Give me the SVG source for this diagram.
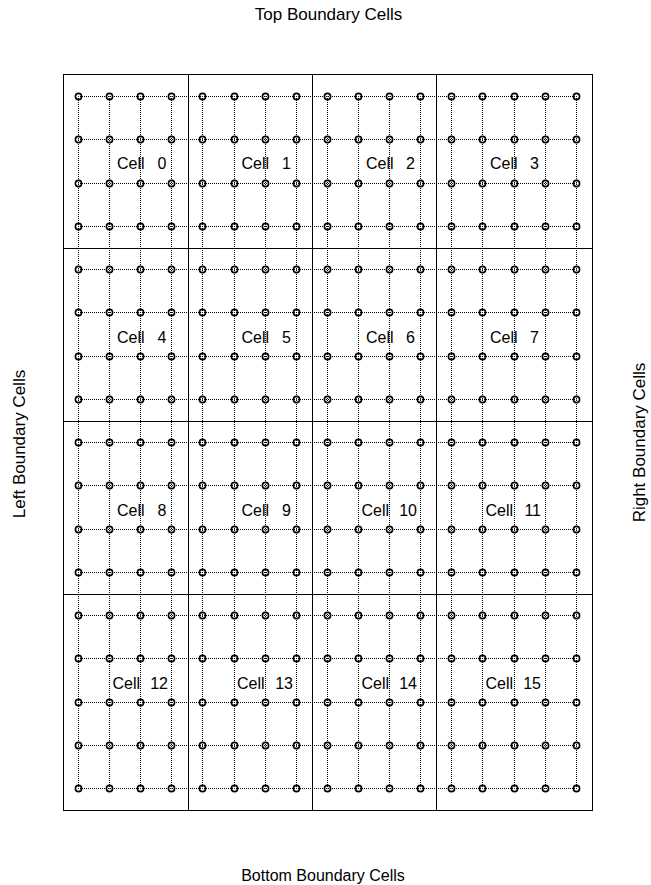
<svg xmlns="http://www.w3.org/2000/svg" width="651" height="885" viewBox="0 0 651 885">
<style>
.cell{fill:none;stroke:#000;stroke-width:1}
.lbl{font-family:"Liberation Sans",Arial,sans-serif;font-size:16px;fill:#000}
.blbl{font-family:"Liberation Sans",Arial,sans-serif;font-size:17px;fill:#000;text-anchor:middle}
.hl{fill:none;stroke:#000;stroke-width:1;stroke-dasharray:1 1;stroke-dashoffset:0.5;marker-start:url(#pt);marker-mid:url(#pt);marker-end:url(#pt)}
.vl{fill:none;stroke:#000;stroke-width:1;stroke-dasharray:1 1;stroke-dashoffset:0.5}
.end{text-anchor:end}
</style>
<defs>
<marker id="pt" markerUnits="userSpaceOnUse" markerWidth="10" markerHeight="10" refX="5" refY="5" viewBox="0 0 10 10" overflow="visible">
<circle cx="5" cy="5" r="3.1" fill="none" stroke="#000" stroke-width="1.6"/>
</marker>
</defs>
<rect width="651" height="885" fill="#fff"/>

<g id="boundary-labels">
<text class="blbl" x="328.5" y="20">Top Boundary Cells</text>
<text class="blbl" x="323" y="881" style="font-size:16px">Bottom Boundary Cells</text>
<text class="blbl" transform="translate(25,444) rotate(-90)">Left Boundary Cells</text>
<text class="blbl" transform="translate(645,442.5) rotate(-90)">Right Boundary Cells</text>
</g>

<g id="connectors">
<path class="vl" d="M78.5 96.5V788.5M109.5 96.5V788.5M140.5 96.5V788.5M171.5 96.5V788.5M202.5 96.5V788.5M234.5 96.5V788.5M265.5 96.5V788.5M296.5 96.5V788.5M327.5 96.5V788.5M358.5 96.5V788.5M389.5 96.5V788.5M420.5 96.5V788.5M451.5 96.5V788.5M482.5 96.5V788.5M514.5 96.5V788.5M545.5 96.5V788.5M576.5 96.5V788.5"/>
<path class="hl" d="M78.5 96.5H109.5H140.5H171.5H202.5H234.5H265.5H296.5H327.5H358.5H389.5H420.5H451.5H482.5H514.5H545.5H576.5"/>
<path class="hl" d="M78.5 139.5H109.5H140.5H171.5H202.5H234.5H265.5H296.5H327.5H358.5H389.5H420.5H451.5H482.5H514.5H545.5H576.5"/>
<path class="hl" d="M78.5 183.5H109.5H140.5H171.5H202.5H234.5H265.5H296.5H327.5H358.5H389.5H420.5H451.5H482.5H514.5H545.5H576.5"/>
<path class="hl" d="M78.5 226.5H109.5H140.5H171.5H202.5H234.5H265.5H296.5H327.5H358.5H389.5H420.5H451.5H482.5H514.5H545.5H576.5"/>
<path class="hl" d="M78.5 269.5H109.5H140.5H171.5H202.5H234.5H265.5H296.5H327.5H358.5H389.5H420.5H451.5H482.5H514.5H545.5H576.5"/>
<path class="hl" d="M78.5 312.5H109.5H140.5H171.5H202.5H234.5H265.5H296.5H327.5H358.5H389.5H420.5H451.5H482.5H514.5H545.5H576.5"/>
<path class="hl" d="M78.5 356.5H109.5H140.5H171.5H202.5H234.5H265.5H296.5H327.5H358.5H389.5H420.5H451.5H482.5H514.5H545.5H576.5"/>
<path class="hl" d="M78.5 399.5H109.5H140.5H171.5H202.5H234.5H265.5H296.5H327.5H358.5H389.5H420.5H451.5H482.5H514.5H545.5H576.5"/>
<path class="hl" d="M78.5 442.5H109.5H140.5H171.5H202.5H234.5H265.5H296.5H327.5H358.5H389.5H420.5H451.5H482.5H514.5H545.5H576.5"/>
<path class="hl" d="M78.5 485.5H109.5H140.5H171.5H202.5H234.5H265.5H296.5H327.5H358.5H389.5H420.5H451.5H482.5H514.5H545.5H576.5"/>
<path class="hl" d="M78.5 529.5H109.5H140.5H171.5H202.5H234.5H265.5H296.5H327.5H358.5H389.5H420.5H451.5H482.5H514.5H545.5H576.5"/>
<path class="hl" d="M78.5 572.5H109.5H140.5H171.5H202.5H234.5H265.5H296.5H327.5H358.5H389.5H420.5H451.5H482.5H514.5H545.5H576.5"/>
<path class="hl" d="M78.5 615.5H109.5H140.5H171.5H202.5H234.5H265.5H296.5H327.5H358.5H389.5H420.5H451.5H482.5H514.5H545.5H576.5"/>
<path class="hl" d="M78.5 658.5H109.5H140.5H171.5H202.5H234.5H265.5H296.5H327.5H358.5H389.5H420.5H451.5H482.5H514.5H545.5H576.5"/>
<path class="hl" d="M78.5 702.5H109.5H140.5H171.5H202.5H234.5H265.5H296.5H327.5H358.5H389.5H420.5H451.5H482.5H514.5H545.5H576.5"/>
<path class="hl" d="M78.5 745.5H109.5H140.5H171.5H202.5H234.5H265.5H296.5H327.5H358.5H389.5H420.5H451.5H482.5H514.5H545.5H576.5"/>
<path class="hl" d="M78.5 788.5H109.5H140.5H171.5H202.5H234.5H265.5H296.5H327.5H358.5H389.5H420.5H451.5H482.5H514.5H545.5H576.5"/>
</g>

<g id="cell-0"><rect class="cell" x="63.5" y="74.5" width="125" height="174"/><text class="lbl" y="168.5"><tspan x="117">Cell</tspan> <tspan class="end" x="166.5">0</tspan></text></g>
<g id="cell-1"><rect class="cell" x="188.5" y="74.5" width="124" height="174"/><text class="lbl" y="168.5"><tspan x="241.5">Cell</tspan> <tspan class="end" x="291">1</tspan></text></g>
<g id="cell-2"><rect class="cell" x="312.5" y="74.5" width="124" height="174"/><text class="lbl" y="168.5"><tspan x="366">Cell</tspan> <tspan class="end" x="415">2</tspan></text></g>
<g id="cell-3"><rect class="cell" x="436.5" y="74.5" width="156" height="174"/><text class="lbl" y="168.5"><tspan x="490">Cell</tspan> <tspan class="end" x="539">3</tspan></text></g>

<g id="cell-4"><rect class="cell" x="63.5" y="248.5" width="125" height="173"/><text class="lbl" y="342.5"><tspan x="117">Cell</tspan> <tspan class="end" x="166.5">4</tspan></text></g>
<g id="cell-5"><rect class="cell" x="188.5" y="248.5" width="124" height="173"/><text class="lbl" y="342.5"><tspan x="241.5">Cell</tspan> <tspan class="end" x="291">5</tspan></text></g>
<g id="cell-6"><rect class="cell" x="312.5" y="248.5" width="124" height="173"/><text class="lbl" y="342.5"><tspan x="366">Cell</tspan> <tspan class="end" x="415">6</tspan></text></g>
<g id="cell-7"><rect class="cell" x="436.5" y="248.5" width="156" height="173"/><text class="lbl" y="342.5"><tspan x="490">Cell</tspan> <tspan class="end" x="539">7</tspan></text></g>

<g id="cell-8"><rect class="cell" x="63.5" y="421.5" width="125" height="173"/><text class="lbl" y="515.5"><tspan x="117">Cell</tspan> <tspan class="end" x="166.5">8</tspan></text></g>
<g id="cell-9"><rect class="cell" x="188.5" y="421.5" width="124" height="173"/><text class="lbl" y="515.5"><tspan x="241.5">Cell</tspan> <tspan class="end" x="291">9</tspan></text></g>
<g id="cell-10"><rect class="cell" x="312.5" y="421.5" width="124" height="173"/><text class="lbl" y="515.5"><tspan x="361.5">Cell</tspan> <tspan class="end" x="417">10</tspan></text></g>
<g id="cell-11"><rect class="cell" x="436.5" y="421.5" width="156" height="173"/><text class="lbl" y="515.5"><tspan x="485.5">Cell</tspan> <tspan class="end" x="541">11</tspan></text></g>

<g id="cell-12"><rect class="cell" x="63.5" y="594.5" width="125" height="216"/><text class="lbl" y="688.5"><tspan x="112.5">Cell</tspan> <tspan class="end" x="168">12</tspan></text></g>
<g id="cell-13"><rect class="cell" x="188.5" y="594.5" width="124" height="216"/><text class="lbl" y="688.5"><tspan x="237">Cell</tspan> <tspan class="end" x="293">13</tspan></text></g>
<g id="cell-14"><rect class="cell" x="312.5" y="594.5" width="124" height="216"/><text class="lbl" y="688.5"><tspan x="361.5">Cell</tspan> <tspan class="end" x="417">14</tspan></text></g>
<g id="cell-15"><rect class="cell" x="436.5" y="594.5" width="156" height="216"/><text class="lbl" y="688.5"><tspan x="485.5">Cell</tspan> <tspan class="end" x="541">15</tspan></text></g>
</svg>
